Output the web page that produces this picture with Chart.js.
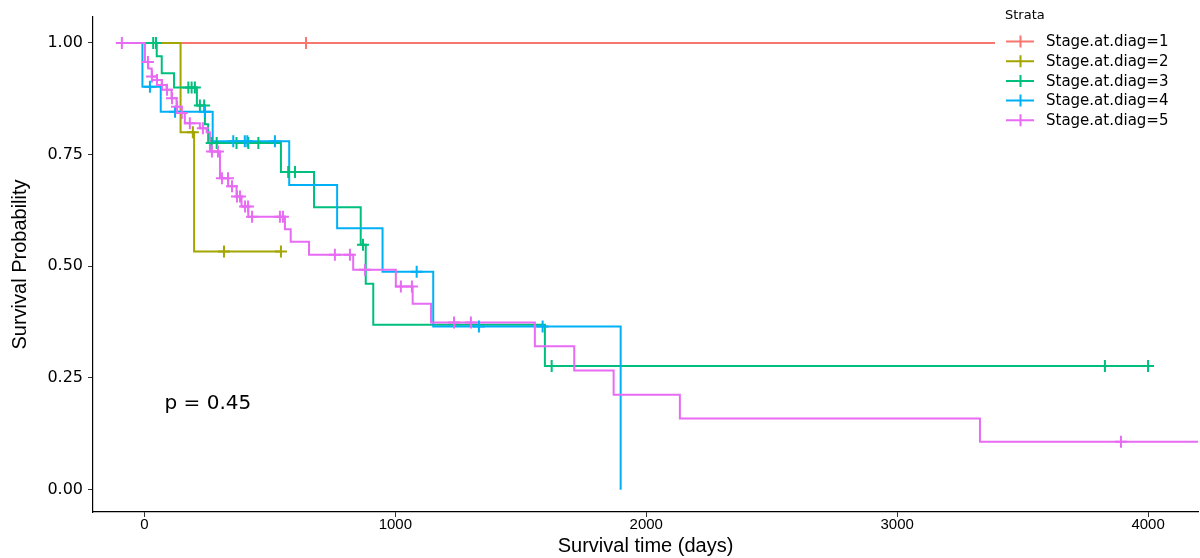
<!DOCTYPE html>
<html>
<head>
<meta charset="utf-8">
<script src="https://cdn.jsdelivr.net/npm/chart.js@4.4.1/dist/chart.umd.min.js"></script>
<style>
  html, body { margin: 0; padding: 0; background: #fff; }
  #wrap { width: 1200px; height: 558px; }
</style>
</head>
<body>
<div id="wrap"><canvas id="kmChart" width="1200" height="558"></canvas></div>
<script>
// ===== DATOS =====
const STRATA_LABELS = ['Stage.at.diag=1', 'Stage.at.diag=2', 'Stage.at.diag=3', 'Stage.at.diag=4', 'Stage.at.diag=5'];
const STRATA_COLORS = ['#F8766D', '#A3A500', '#00BF7D', '#00B0F6', '#E76BF3'];

const X_TICKS = [0, 1000, 2000, 3000, 4000];
const Y_TICKS = [0, 0.25, 0.5, 0.75, 1];
const P_TEXT = 'p = 0.45';

// Stage 1
const s1Start = 0;
const s1Times = [];
const s1Surv = [];
const s1End = 3400;
const s1Censor = [644];

// Stage 2
const s2Start = 0;
const s2Times = [144, 198];
const s2Surv = [0.80, 0.533];
const s2End = 544;
const s2Censor = [193, 317, 544];

// Stage 3
const s3Start = 0;
const s3Times = [49, 69, 118, 209, 241, 254, 544, 676, 862, 882, 912, 1596];
const s3Surv = [0.970, 0.932, 0.900, 0.860, 0.818, 0.776, 0.711, 0.632, 0.548, 0.461, 0.369, 0.277];
const s3End = 4000;
const s3Censor = [35, 46, 175, 188, 201, 221, 238, 268, 288, 367, 414, 454, 573, 600, 871, 1623, 3828, 4000];

// Stage 4
const s4Start = -10;
const s4Times = [-8, 65, 272, 577, 768, 949, 1151, 1898];
const s4Surv = [0.902, 0.846, 0.780, 0.682, 0.585, 0.488, 0.365, 0];
const s4End = 1898;
const s4Censor = [22, 122, 241, 354, 400, 410, 520, 1085, 1333, 1587];

// Stage 5
const s5Start = -90;
const s5Times = [2, 15, 29, 49, 69, 88, 108, 128, 148, 161, 221, 248, 261, 301, 334, 367, 387, 414,
                 560, 583, 656, 832, 1002, 1069, 1142, 1556, 1713, 1870, 2134, 3330];
const s5Surv = [0.957, 0.943, 0.925, 0.917, 0.906, 0.895, 0.876, 0.857, 0.843, 0.820, 0.809, 0.800, 0.757, 0.697,
                0.679, 0.656, 0.634, 0.611, 0.583, 0.555, 0.526, 0.492, 0.455, 0.416, 0.374, 0.321, 0.267,
                0.2125, 0.1595, 0.107];
const s5End = 4199;
const s5Censor = [-90, 14, 30, 50, 70, 90, 110, 130, 149, 181, 233, 269, 293, 309, 333, 349, 369, 381, 401,
                  413, 429, 540, 552, 759, 819, 879, 1022, 1066, 1234, 1301, 3892];

const STRATA = [
    { start: s1Start, times: s1Times, surv: s1Surv, end: s1End, censor: s1Censor },
    { start: s2Start, times: s2Times, surv: s2Surv, end: s2End, censor: s2Censor },
    { start: s3Start, times: s3Times, surv: s3Surv, end: s3End, censor: s3Censor },
    { start: s4Start, times: s4Times, surv: s4Surv, end: s4End, censor: s4Censor },
    { start: s5Start, times: s5Times, surv: s5Surv, end: s5End, censor: s5Censor }
];

// ===== helpers =====
function kmPuntos(s) {
    const pts = [{ x: s.start, y: 1 }];
    s.times.forEach((t, i) => pts.push({ x: t, y: s.surv[i] }));
    const last = s.surv.length ? s.surv[s.surv.length - 1] : 1;
    if (s.end > pts[pts.length - 1].x) pts.push({ x: s.end, y: last });
    return pts;
}

function kmValorEn(s, t) {
    let v = 1;
    s.times.forEach((tt, i) => { if (tt <= t) v = s.surv[i]; });
    return v;
}

const datasets = [];
STRATA.forEach((s, i) => {
    datasets.push({
        label: STRATA_LABELS[i],
        data: kmPuntos(s),
        borderColor: STRATA_COLORS[i],
        backgroundColor: STRATA_COLORS[i],
        borderWidth: 2,
        pointRadius: 0,
        stepped: true,
        fill: false,
        order: 20 - i
    });
});
STRATA.forEach((s, i) => {
    datasets.push({
        label: STRATA_LABELS[i] + ' (censor)',
        data: s.censor.map(t => ({ x: t, y: kmValorEn(s, t) })),
        showLine: false,
        pointStyle: 'cross',
        pointRadius: 6,
        pointBorderWidth: 2,
        borderColor: STRATA_COLORS[i],
        backgroundColor: STRATA_COLORS[i],
        order: 10 - i
    });
});

// ===== plugin: texto p y leyenda =====
const kmExtras = {
    id: 'kmExtras',
    afterDraw(chart) {
        const ctx = chart.ctx;
        const xs = chart.scales.x, ys = chart.scales.y;

        // p-value
        ctx.save();
        ctx.fillStyle = '#000';
        ctx.font = '20px "DejaVu Sans"';
        ctx.textAlign = 'left';
        ctx.textBaseline = 'middle';
        ctx.fillText(P_TEXT, xs.getPixelForValue(80), ys.getPixelForValue(0.193));
        ctx.restore();

        // leyenda
        ctx.save();
        ctx.fillStyle = '#fff';
        ctx.fillRect(995, 2, 205, 128);
        ctx.fillStyle = '#000';
        ctx.font = '13px "DejaVu Sans"';
        ctx.textAlign = 'left';
        ctx.textBaseline = 'middle';
        ctx.fillText('Strata', 1005, 16);
        ctx.font = '15px "DejaVu Sans"';
        STRATA_LABELS.forEach((lab, i) => {
            const y = 41.5 + i * 19.7;
            ctx.strokeStyle = STRATA_COLORS[i];
            ctx.lineWidth = 2;
            ctx.beginPath();
            ctx.moveTo(1006, y); ctx.lineTo(1034, y);
            ctx.moveTo(1020.5, y - 6); ctx.lineTo(1020.5, y + 6);
            ctx.stroke();
            ctx.fillStyle = '#000';
            ctx.fillText(lab, 1046, y + 1);
        });
        ctx.restore();
    }
};

new Chart(document.getElementById('kmChart'), {
    type: 'line',
    data: { datasets },
    plugins: [kmExtras],
    options: {
        responsive: false,
        animation: false,
        devicePixelRatio: 1,
        layout: { autoPadding: false, padding: { top: 17, right: 2, left: 0, bottom: 0 } },
        plugins: {
            legend: { display: false },
            tooltip: { enabled: false }
        },
        scales: {
            x: {
                type: 'linear',
                min: -205,
                max: 4199,
                afterBuildTicks: s => { s.ticks = X_TICKS.map(v => ({ value: v })); },
                afterFit: s => { s.height = 46; },
                grid: { display: true, drawOnChartArea: false, drawTicks: true, tickLength: 5, color: '#333' },
                border: { display: true, color: '#000', width: 1.2 },
                ticks: {
                    color: '#000',
                    padding: -1,
                    maxRotation: 0,
                    font: { family: '"Liberation Sans Narrow", "Liberation Sans"', size: 15 },
                    callback: v => String(v)
                },
                title: {
                    display: true,
                    text: 'Survival time (days)',
                    color: '#000',
                    padding: { top: 0, bottom: 0 },
                    font: { family: '"Liberation Sans Narrow", "Liberation Sans"', size: 20 }
                }
            },
            y: {
                type: 'linear',
                min: -0.05,
                max: 1.058,
                afterBuildTicks: s => { s.ticks = Y_TICKS.map(v => ({ value: v })); },
                afterFit: s => { s.width = 93; },
                grid: { display: true, drawOnChartArea: false, drawTicks: true, tickLength: 5, color: '#333' },
                border: { display: true, color: '#000', width: 1.2 },
                ticks: {
                    color: '#000',
                    padding: 5,
                    font: { family: '"DejaVu Sans"', size: 16 },
                    callback: v => Number(v).toFixed(2)
                },
                title: {
                    display: true,
                    text: 'Survival Probability',
                    color: '#000',
                    padding: { top: 8, bottom: 0 },
                    font: { family: '"Liberation Sans Narrow", "Liberation Sans"', size: 20 }
                }
            }
        }
    }
});
</script>
</body>
</html>
